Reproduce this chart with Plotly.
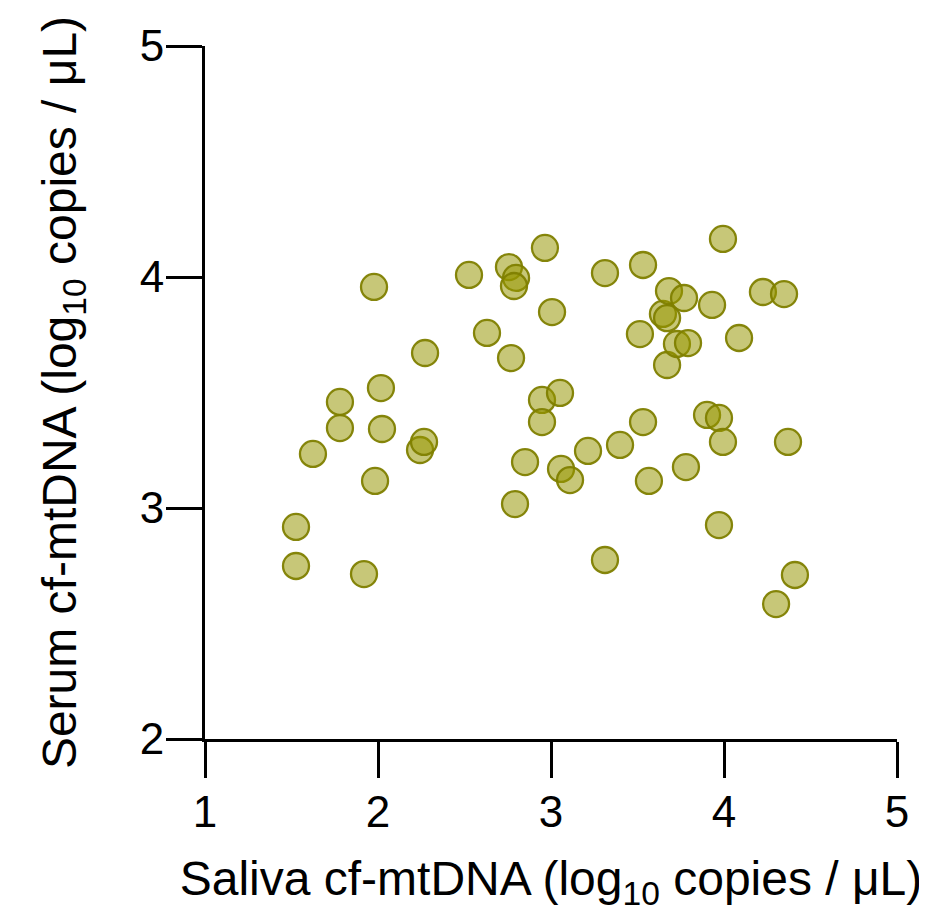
import plotly.graph_objects as go

saliva = [1.526, 1.526, 1.624, 1.780, 1.780, 1.919, 1.977, 1.983, 2.017, 2.023,
          2.243, 2.266, 2.272, 2.526, 2.630, 2.757, 2.798, 2.786, 2.769, 2.792,
          2.850, 2.965, 2.948, 2.948, 3.006, 3.052, 3.058, 3.110, 3.214, 3.312,
          3.312, 3.399, 3.514, 3.532, 3.532, 3.566, 3.647, 3.671, 3.671, 3.682,
          3.728, 3.769, 3.780, 3.792, 3.902, 3.931, 3.971, 3.971, 3.994, 3.994,
          4.087, 4.225, 4.301, 4.347, 4.370, 4.410]
serum = [2.918, 2.749, 3.234, 3.459, 3.346, 2.714, 3.957, 3.117, 3.519, 3.342,
         3.251, 3.286, 3.671, 4.009, 3.758, 4.043, 3.996, 3.961, 3.649, 3.017,
         3.199, 4.126, 3.468, 3.372, 3.848, 3.498, 3.169, 3.121, 3.247, 4.017,
         2.775, 3.273, 3.753, 4.052, 3.372, 3.117, 3.840, 3.822, 3.619, 3.939,
         3.710, 3.909, 3.177, 3.714, 3.403, 3.879, 3.390, 2.926, 4.165, 3.286,
         3.736, 3.935, 2.584, 3.926, 3.286, 2.710]

tick_vals_x = [1, 2, 3, 4, 5]
tick_vals_y = [2, 3, 4, 5]

fig = go.Figure()
fig.add_trace(go.Scatter(
    x=saliva, y=serum, mode="markers",
    marker=dict(size=26, color="rgba(149,149,0,0.53)",
                line=dict(color="rgba(128,128,0,0.95)", width=2.3)),
    cliponaxis=False, showlegend=False,
))

font_family = "Liberation Sans, Arial, sans-serif"
axis_common = dict(
    showline=True, linecolor="black", linewidth=3,
    ticks="outside", ticklen=36, tickwidth=3, tickcolor="black",
    showgrid=False, zeroline=False,
    tickfont=dict(family=font_family, size=44, color="black"),
)

fig.update_layout(
    width=927, height=908,
    margin=dict(l=197, r=38, t=38, b=177),
    plot_bgcolor="white", paper_bgcolor="white",
    xaxis=dict(range=[1, 5], tickvals=tick_vals_x, ticklabelstandoff=-4,
               title=dict(text="Saliva cf-mtDNA (log<sub>10</sub> copies / μL)",
                          font=dict(family=font_family, size=48, color="black"),
                          standoff=27),
               **axis_common),
    yaxis=dict(range=[2, 5], tickvals=tick_vals_y, ticklabelstandoff=-7,
               title=dict(text="Serum cf-mtDNA (log<sub>10</sub> copies / μL)",
                          font=dict(family=font_family, size=48, color="black"),
                          standoff=48),
               **axis_common),
)

fig.write_html("out.html")
